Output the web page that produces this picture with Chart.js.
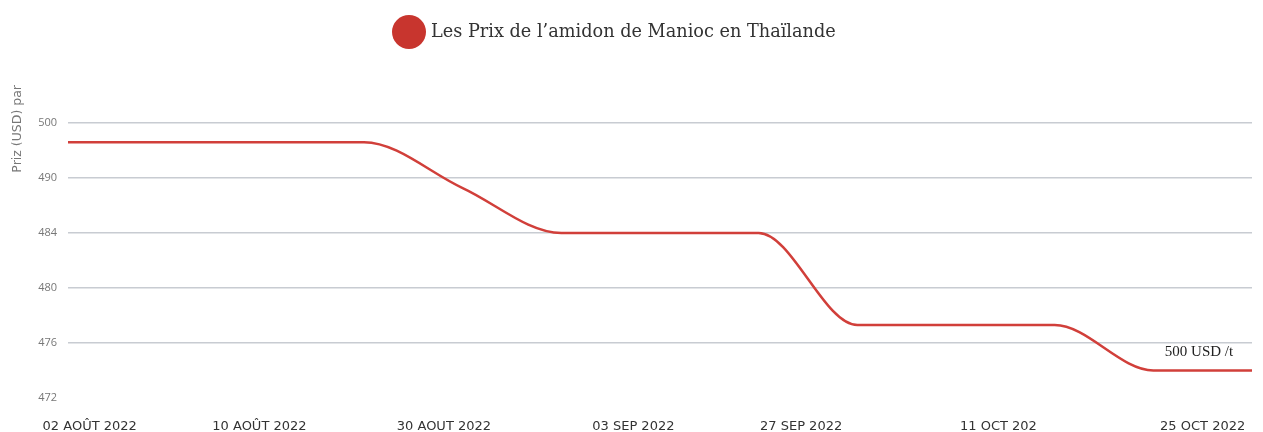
<!DOCTYPE html>
<html>
<head>
<meta charset="utf-8">
<script src="https://cdn.jsdelivr.net/npm/chart.js@4"></script>
<style>
  html, body { margin: 0; padding: 0; background: #fff; }
  #wrap { width: 1263px; height: 432px; }
</style>
</head>
<body>
<div id="wrap"><canvas id="graficoAmidon"></canvas></div>
<script>
// données
const serieNom = "Les Prix de l’amidon de Manioc en Thaïlande";
const prix = [496.5, 496.5, 496.5, 496.5, 488.9, 484, 484, 484, 477.3, 477.3, 477.3, 474, 474];
const yTicks = [472, 476, 480, 484, 490, 500];
const xLabels = ["02 AOÛT 2022", "10 AOÛT 2022", "30 AOUT 2022", "03 SEP 2022", "27 SEP 2022", "11 OCT 202", "25 OCT 2022"];
const xLabelPos = [0.22, 1.94, 3.81, 5.73, 7.43, 9.43, 11.5];
const annotation = "500 USD /t";

// l'axe Y est régulier en rangs, pas en valeurs
function rang(v) {
  for (let i = 0; i < yTicks.length - 1; i++) {
    if (v <= yTicks[i + 1]) return i + (v - yTicks[i]) / (yTicks[i + 1] - yTicks[i]);
  }
  return yTicks.length - 1;
}

const points = prix.map((v, i) => ({ x: i, y: rang(v) }));

const legendePlugin = {
  id: "legende",
  afterDraw(chart) {
    const c = chart.ctx;
    c.save();
    c.fillStyle = "#c8352e";
    c.beginPath();
    c.arc(409, 32, 17, 0, Math.PI * 2);
    c.fill();
    c.fillStyle = "#333";
    c.font = "17.7px 'DejaVu Serif'";
    c.textBaseline = "middle";
    c.fillText(serieNom, 431, 32);

    const xs = chart.scales.x, ys = chart.scales.y;
    const last = points[points.length - 1];
    c.font = "15px 'Liberation Serif'";
    c.fillStyle = "#222";
    c.textAlign = "center";
    c.fillText(annotation, xs.getPixelForValue(last.x) - 53, ys.getPixelForValue(last.y) - 18);
    c.restore();
  }
};

new Chart(document.getElementById("graficoAmidon"), {
  type: "line",
  data: {
    datasets: [{
      label: serieNom,
      data: points,
      borderColor: "#d13f3a",
      borderWidth: 2.5,
      pointRadius: 0,
      cubicInterpolationMode: "monotone",
      fill: false
    }]
  },
  options: {
    responsive: true,
    maintainAspectRatio: false,
    animation: false,
    layout: { padding: { top: 85, right: 11, left: 0, bottom: 0 } },
    plugins: { legend: { display: false }, tooltip: { enabled: false } },
    scales: {
      x: {
        type: "linear",
        min: 0,
        max: prix.length - 1,
        grid: { display: false, drawTicks: false },
        border: { display: false },
        afterBuildTicks(s) { s.ticks = xLabelPos.map(v => ({ value: v })); },
        afterFit(s) { s.height = 34; s.paddingLeft = 0; s.paddingRight = 0; },
        ticks: {
          padding: 21,
          maxRotation: 0,
          autoSkip: false,
          color: "#333",
          font: { family: "'DejaVu Sans'", size: 13 },
          callback: (v, i) => xLabels[i]
        }
      },
      y: {
        type: "linear",
        min: 0,
        max: 5.69,
        afterBuildTicks(s) { s.ticks = yTicks.map((t, i) => ({ value: i })); },
        afterFit(s) { s.width = 68; },
        grid: {
          drawTicks: false,
          color: ctx => ctx.index === 0 ? "rgba(0,0,0,0)" : "#c8ccd2",
          lineWidth: 1.5
        },
        border: { display: false },
        ticks: {
          padding: 11,
          color: "#777",
          font: { family: "'Open Sans'", size: 11 },
          callback: (v, i) => yTicks[i]
        },
        title: {
          display: true,
          text: "Priz (USD) par",
          align: "end",
          color: "#777",
          font: { family: "'DejaVu Sans'", size: 12.5 },
          padding: { top: 10, bottom: 0 }
        }
      }
    }
  },
  plugins: [legendePlugin]
});
</script>
</body>
</html>
